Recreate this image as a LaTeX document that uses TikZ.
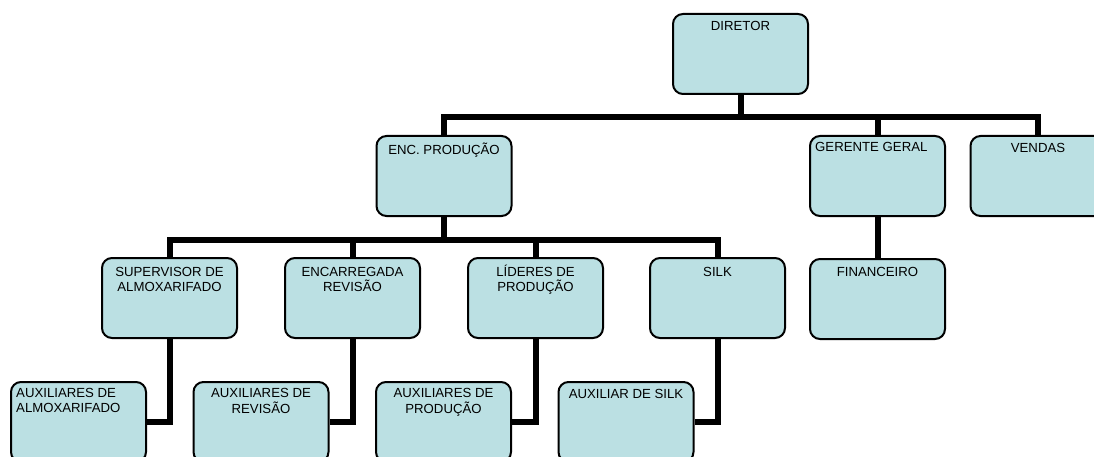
\documentclass[tikz,border=0pt]{standalone}
\usepackage{fontspec}
\setmainfont{Liberation Sans}
\usetikzlibrary{calc}
\definecolor{boxfill}{RGB}{187,224,227}
\newcommand{\orgfont}{\fontsize{13.2pt}{15.7pt}\selectfont}
\tikzset{
  orgbox/.style={draw=black, fill=boxfill, line width=2pt, rounded corners=10pt,
    minimum width=135pt, minimum height=80pt, inner sep=0pt},
  conn/.style={draw=black, line width=6pt},
  txt/.style={font=\orgfont, align=center, anchor=base, inner sep=0pt},
  txtl/.style={font=\orgfont, align=left, anchor=base west, inner sep=0pt},
}
\begin{document}
\begin{tikzpicture}[x=1pt,y=-1pt]
\useasboundingbox (0,0) rectangle (1094,457);
\clip (0,0) rectangle (1094,457);
% boxes
\node[orgbox] (dir) at (740.5,54) {};
\node[orgbox] (enc) at (444,176) {};
\node[orgbox] (ger) at (877.5,176) {};
\node[orgbox] (ven) at (1038,176) {};
\node[orgbox] (sup) at (169.5,298) {};
\node[orgbox] (rev) at (352.5,298) {};
\node[orgbox] (lid) at (535.5,298) {};
\node[orgbox] (silk) at (717.5,298) {};
\node[orgbox] (fin) at (877.5,299) {};
\node[orgbox] (aux1) at (78.5,422) {};
\node[orgbox] (aux2) at (261,422) {};
\node[orgbox] (aux3) at (443.5,422) {};
\node[orgbox] (aux4) at (626,422) {};
% connectors
\coordinate (b1) at (0,117);
\coordinate (b2) at (0,240);
\draw[conn] (dir.south) -- (dir.south |- b1) -| (enc.north);
\draw[conn] (dir.south) -- (dir.south |- b1) -| (ger.north);
\draw[conn] (dir.south) -- (dir.south |- b1) -| (ven.north);
\draw[conn] (enc.south) -- (enc.south |- b2) -| (sup.north);
\draw[conn] (enc.south) -- (enc.south |- b2) -| (rev.north);
\draw[conn] (enc.south) -- (enc.south |- b2) -| (lid.north);
\draw[conn] (enc.south) -- (enc.south |- b2) -| (silk.north);
\draw[conn] (ger.south) -- (fin.north);
\draw[conn] (sup.south) |- (aux1.east);
\draw[conn] (rev.south) |- (aux2.east);
\draw[conn] (lid.south) |- (aux3.east);
\draw[conn] (silk.south) |- (aux4.east);
% texts
\node[txt] (tdir) at ([yshift=-18pt]dir.north) {DIRETOR};
\node[txt] (tenc) at ([yshift=-20pt]enc.north) {ENC. PRODUÇÃO};
\node[txtl] (tger) at ([xshift=6pt,yshift=-17pt]ger.north west) {GERENTE GERAL};
\node[txt] (tven) at ([yshift=-17.5pt]ven.north) {VENDAS};
\node[txt] (tsup) at ([yshift=-34.7pt]sup.north) {SUPERVISOR DE\\ALMOXARIFADO};
\node[txt] (trev) at ([yshift=-34.7pt]rev.north) {ENCARREGADA\\REVISÃO};
\node[txt] (tlid) at ([yshift=-34.7pt]lid.north) {LÍDERES DE\\PRODUÇÃO};
\node[txt] (tsilk) at ([yshift=-19.5pt]silk.north) {SILK};
\node[txt] (tfin) at ([yshift=-18pt]fin.north) {FINANCEIRO};
\node[txtl] (taux1) at ([xshift=6pt,yshift=-31.7pt]aux1.north west) {AUXILIARES DE\\ALMOXARIFADO};
\node[txt] (taux2) at ([yshift=-32.2pt]aux2.north) {AUXILIARES DE\\REVISÃO};
\node[txt] (taux3) at ([yshift=-32.2pt]aux3.north) {AUXILIARES DE\\PRODUÇÃO};
\node[txt] (taux4) at ([yshift=-17.5pt]aux4.north) {AUXILIAR DE SILK};
\end{tikzpicture}
\end{document}
